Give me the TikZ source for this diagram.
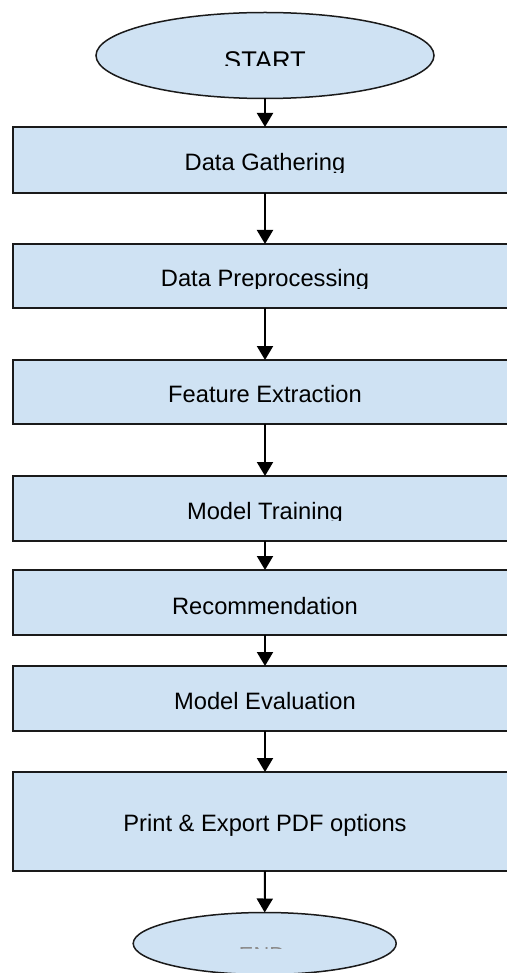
\documentclass[tikz,border=0pt]{standalone}
\usepackage{fontspec}
\setmainfont{Liberation Sans}
\usetikzlibrary{arrows.meta,shapes.geometric}

\definecolor{stepfill}{HTML}{CFE2F3}
\definecolor{stepline}{HTML}{1A1A1A}

% a label cut off just under its baseline: name, x, baseline, lower cut, text
\newcommand\cutlabel[5]{%
  \begin{scope}
    \clip (0,#3-40) rectangle (506,#4);
    \node[lbl,anchor=base] (#1) at (#2,#3) {#5};
  \end{scope}}

\begin{document}
\begin{tikzpicture}[x=1pt,y=-1pt,
  stepbox/.style={draw=stepline,line width=1.5pt,fill=stepfill,rectangle,
    minimum width=504pt,inner sep=0pt,outer sep=0pt},
  termbox/.style={draw=stepline,line width=1.5pt,fill=stepfill,ellipse,
    inner sep=0pt,outer sep=0pt},
  lbl/.style={inner sep=0pt,font=\fontsize{23.7}{28}\selectfont,text=black},
  arr/.style={line width=2pt,draw=black,-{Triangle[width=16pt,length=14pt]}}]

\useasboundingbox (0,0) rectangle (506,973);
\fill[white] (0,0) rectangle (506,973);

% terminals
\node[termbox,minimum width=338pt,minimum height=86pt] (start) at (265,55.5) {};
\node[termbox,minimum width=263pt,minimum height=62pt] (stop) at (264.7,943.5) {};

% process steps
\node[stepbox,minimum height=66pt] (g1) at (265,160) {};
\node[stepbox,minimum height=64pt] (g2) at (265,276) {};
\node[stepbox,minimum height=64pt] (g3) at (265,392) {};
\node[stepbox,minimum height=65pt] (g4) at (265,508.5) {};
\node[stepbox,minimum height=65pt] (g5) at (265,602.5) {};
\node[stepbox,minimum height=65pt] (g6) at (265,698.5) {};
\node[stepbox,minimum height=99pt] (g7) at (265,821.5) {};

% labels
\cutlabel{lstart}{265}{70}{66}{\fontsize{25.6}{30}\selectfont START}
\cutlabel{l1}{265}{171}{173}{Data Gathering}
\cutlabel{l2}{265}{286.7}{288.5}{Data Preprocessing}
\cutlabel{l3}{265}{402.7}{404.5}{Feature Extraction}
\cutlabel{l4}{265}{519}{520.5}{Model Training}
\cutlabel{l5}{265}{614}{616}{Recommendation}
\cutlabel{l6}{265}{709}{711}{Model Evaluation}
\cutlabel{l7}{265}{831}{845}{Print \& Export PDF options}
\begin{scope}
  \clip (0,946.4) rectangle (506,948.2);
  \node[lbl,anchor=base,text=black!45,font=\fontsize{21.8}{26}\selectfont] (lend) at (262,962.6) {END};
\end{scope}

% connectors
\draw[arr] (start.south) -- (g1.north);
\draw[arr] (g1.south) -- (g2.north);
\draw[arr] (g2.south) -- (g3.north);
\draw[arr] (g3.south) -- (g4.north);
\draw[arr] (g4.south) -- (g5.north);
\draw[arr] (g5.south) -- (g6.north);
\draw[arr] (g6.south) -- (g7.north);
\draw[arr] (g7.south) -- (stop.north);
\end{tikzpicture}
\end{document}
